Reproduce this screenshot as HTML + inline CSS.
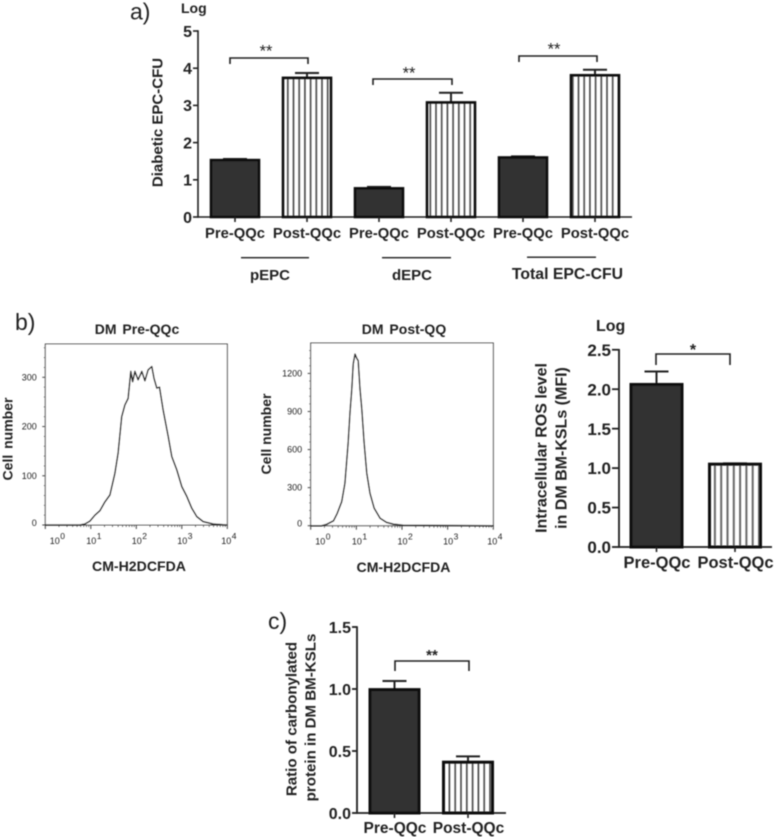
<!DOCTYPE html>
<html lang="en">
<head>
<meta charset="utf-8">
<title>Diabetic EPC-CFU, ROS and carbonylated protein charts</title>
<style>
html,body{margin:0;padding:0;background:#fff;}
svg{display:block;}
text{font-family:"Liberation Sans",sans-serif;fill:#222;}
.b{font-weight:bold;}
</style>
</head>
<body>
<svg id="fig" xmlns="http://www.w3.org/2000/svg" width="777" height="837" viewBox="0 0 777 837">
  <defs>
    <pattern id="stripe-a" patternUnits="userSpaceOnUse" width="5.7" height="10"><rect x="2" width="1.6" height="10" fill="#444"/></pattern>
    <pattern id="stripe-b" patternUnits="userSpaceOnUse" width="6.3" height="10"><rect x="2" width="2" height="10" fill="#666"/></pattern>
    <pattern id="stripe-c" patternUnits="userSpaceOnUse" width="5.8" height="10"><rect x="2" width="1.6" height="10" fill="#444"/></pattern>
    <filter id="soft" x="-5%" y="-5%" width="110%" height="110%"><feGaussianBlur stdDeviation="0.4"/></filter>
  </defs>
  <g id="root" filter="url(#soft)">
    <text x="130" y="19.5" font-size="23">a)</text>
    <text x="15" y="330" font-size="23">b)</text>
    <text x="268" y="629" font-size="23">c)</text>

    <text class="b" x="181" y="13" font-size="14">Log</text>
    <text class="b" transform="translate(162.5,122.5) rotate(-90)" text-anchor="middle" font-size="15">Diabetic EPC-CFU</text>
    <rect x="241" y="257" width="68" height="1.4" fill="#222"/>
    <rect x="382" y="257" width="69" height="1.4" fill="#222"/>
    <rect x="527" y="256.5" width="69" height="1.4" fill="#222"/>
    <text class="b" x="270" y="280" text-anchor="middle" font-size="15">pEPC</text>
    <text class="b" x="412" y="280" text-anchor="middle" font-size="15">dEPC</text>
    <text class="b" x="567.5" y="279" text-anchor="middle" font-size="15.8">Total EPC-CFU</text>

    <text class="b" x="137" y="334" text-anchor="middle" font-size="14" word-spacing="2">DM Pre-QQc</text>
    <text class="b" x="139" y="571" text-anchor="middle" font-size="14.1">CM-H2DCFDA</text>
    <text class="b" transform="translate(12.5,439) rotate(-90)" text-anchor="middle" font-size="14" word-spacing="2">Cell number</text>

    <text class="b" x="404" y="334" text-anchor="middle" font-size="14" word-spacing="2">DM Post-QQ</text>
    <text class="b" x="403.5" y="572" text-anchor="middle" font-size="14.1">CM-H2DCFDA</text>
    <text class="b" transform="translate(271,434) rotate(-90)" text-anchor="middle" font-size="14">Cell number</text>

    <text class="b" x="596" y="331" font-size="16">Log</text>
    <text class="b" transform="translate(546.5,448) rotate(-90)" text-anchor="middle" font-size="16">Intracellular ROS level</text>
    <text class="b" transform="translate(566.5,448) rotate(-90)" text-anchor="middle" font-size="16">in DM BM-KSLs (MFI)</text>

    <text class="b" transform="translate(296.5,719) rotate(-90)" text-anchor="middle" font-size="15.1">Ratio of carbonylated</text>
    <text class="b" transform="translate(315.5,717.5) rotate(-90)" text-anchor="middle" font-size="15.1">protein in DM BM-KSLs</text>
  </g>
</svg>
<script>
// Chart a: Diabetic EPC-CFU
const epcCategories = ['Pre-QQc', 'Post-QQc', 'Pre-QQc', 'Post-QQc', 'Pre-QQc', 'Post-QQc'];
const epcValues = [1.53, 3.74, 0.77, 3.08, 1.60, 3.81];
const epcErrorTops = [1.56, 3.87, 0.81, 3.34, 1.63, 3.96];
const epcTicks = ['0', '1', '2', '3', '4', '5'];

// Chart b: Intracellular ROS
const rosCategories = ['Pre-QQc', 'Post-QQc'];
const rosValues = [2.06, 1.05];
const rosErrorTops = [2.225, 1.06];
const rosTicks = ['0.0', '0.5', '1.0', '1.5', '2.0', '2.5'];

// Chart c: Carbonylated protein
const carbCategories = ['Pre-QQc', 'Post-QQc'];
const carbValues = [0.995, 0.41];
const carbErrorTops = [1.065, 0.457];
const carbTicks = ['0.0', '0.5', '1.0', '1.5'];

// Flow-cytometry histograms (log10 fluorescence, cell count)
const preLogFluorescence = [0, 0.76, 0.87, 0.98, 1.09, 1.20, 1.31, 1.42, 1.53, 1.60, 1.68, 1.75, 1.82, 1.88, 1.92, 1.97, 2.04, 2.12, 2.19, 2.26, 2.34, 2.39, 2.45, 2.51, 2.59, 2.70, 2.78, 2.89, 3.00, 3.11, 3.22, 3.33, 3.47, 3.69, 3.99];
const preCellCounts = [0, 0, 2, 8, 20, 29, 47, 61, 105, 146, 220, 244, 257, 312, 291, 312, 295, 312, 293, 315, 322, 298, 278, 280, 234, 180, 139, 112, 78, 58, 34, 17, 7, 2, 0];
const preCountTicks = [0, 100, 200, 300];
const postLogFluorescence = [0, 0.24, 0.35, 0.50, 0.58, 0.68, 0.75, 0.82, 0.86, 0.90, 0.93, 0.97, 1.01, 1.04, 1.08, 1.12, 1.17, 1.23, 1.30, 1.39, 1.52, 1.66, 1.81, 2.03, 4.00];
const postCellCounts = [0, 0, 11, 39, 97, 189, 333, 648, 893, 1077, 1274, 1352, 1318, 1300, 1077, 919, 656, 412, 255, 137, 58, 26, 13, 3, 0];
const postCountTicks = [0, 300, 600, 900, 1200];
const decades = [0, 1, 2, 3, 4];

const NS = 'http://www.w3.org/2000/svg';
const root = document.getElementById('root');
function make(parent, tag, attrs, txt) {
  const el = document.createElementNS(NS, tag);
  for (const k in attrs) el.setAttribute(k, attrs[k]);
  if (txt !== undefined) el.textContent = txt;
  parent.appendChild(el);
  return el;
}

function drawBars(c) {
  const g = make(root, 'g', {});
  
  
  const y = v => c.y0 - v * c.unit;
  const x = i => c.x0 + i * c.step;
  const tickVal = i => i * c.tickStep;

  const yAxis = make(g, 'line', {x1: c.axisX, x2: c.axisX, y1: y(c.maxV) - 0.8, y2: c.y0 + 0.8, stroke: '#222', 'stroke-width': c.axisW});
  
  
  const xAxis = make(g, 'line', {x1: c.axisX, x2: c.axisEnd, y1: c.y0, y2: c.y0, stroke: '#222', 'stroke-width': c.axisW});
  
  

  c.ticks.forEach((t, i) => {
    const ty = y(tickVal(i));
    const tick = make(g, 'line', {x1: c.axisX - c.tickLen, x2: c.axisX, y1: ty, y2: ty, stroke: '#222', 'stroke-width': c.axisW});
    
    
    const lab = make(g, 'text', {x: c.axisX - c.tickLen - 1, y: ty + c.tickFont * 0.36, 'text-anchor': 'end', 'font-size': c.tickFont, 'font-weight': 'bold'}, t);
    
    
  });

  c.values.forEach((v, i) => {
    const cx = x(i);
    const dark = i % 2 === 0;
    const top = y(c.errs[i]);
    const stem = make(g, 'line', {x1: cx, x2: cx, y1: top, y2: y(v), stroke: '#222', 'stroke-width': 2});
    
    
    const cap = make(g, 'line', {x1: cx - c.cap, x2: cx + c.cap, y1: top, y2: top, stroke: '#222', 'stroke-width': 2});
    
    
    const bar = make(g, 'rect', {x: cx - c.barW / 2, y: y(v), width: c.barW, height: c.y0 - y(v), fill: dark ? '#333' : 'url(#' + c.stripe + ')', stroke: '#111', 'stroke-width': c.barStroke});
    
    
    const tick = make(g, 'line', {x1: cx, x2: cx, y1: c.y0, y2: c.y0 + 5, stroke: '#222', 'stroke-width': 1.6});
    
    
    const lab = make(g, 'text', {x: cx + c.labelDx, y: c.labelY, 'text-anchor': 'middle', 'font-size': c.labelFont, 'font-weight': 'bold'}, c.categories[i]);
    
    
  });

  c.brackets.forEach(b => {
    const br = make(g, 'path', {d: 'M' + b.a + ' ' + (b.y + b.drop) + 'V' + b.y + 'H' + b.b + 'V' + (b.y + b.drop), fill: 'none', stroke: '#222', 'stroke-width': 1.6});
    
    
    const st = make(g, 'text', {x: b.sx, y: b.sy, 'text-anchor': 'middle', 'font-size': b.font, 'font-weight': b.weight}, b.stars);
    
    
  });
}

drawBars({id: 'epc', categories: epcCategories, values: epcValues, errs: epcErrorTops, ticks: epcTicks, tickStep: 1, maxV: 5,
  x0: 235, step: 72, barW: 48, y0: 217, unit: 37.2, axisX: 198, axisEnd: 632, axisW: 1.6, tickLen: 5, tickFont: 16, cap: 12, barStroke: 2.6,
  stripe: 'stripe-a', labelY: 238, labelFont: 14.8, labelDx: 0,
  brackets: [
    {a: 230, b: 308, y: 58, drop: 6, sx: 266, sy: 56.5, stars: '**', font: 16.5, weight: 'normal'},
    {a: 373, b: 452, y: 79, drop: 6, sx: 409, sy: 78.5, stars: '**', font: 16.5, weight: 'normal'},
    {a: 519, b: 597, y: 56, drop: 6, sx: 554, sy: 54.5, stars: '**', font: 16.5, weight: 'normal'}
  ]});

drawBars({id: 'ros', categories: rosCategories, values: rosValues, errs: rosErrorTops, ticks: rosTicks, tickStep: 0.5, maxV: 2.5,
  x0: 656.5, step: 78.5, barW: 51, y0: 547, unit: 78.9, axisX: 619, axisEnd: 772, axisW: 1.8, tickLen: 7, tickFont: 17, cap: 12, barStroke: 3,
  stripe: 'stripe-b', labelY: 568, labelFont: 16.5, labelDx: 0.5,
  brackets: [{a: 656, b: 730, y: 354, drop: 11, sx: 693, sy: 355, stars: '*', font: 16, weight: 'bold'}]});

drawBars({id: 'carb', categories: carbCategories, values: carbValues, errs: carbErrorTops, ticks: carbTicks, tickStep: 0.5, maxV: 1.5,
  x0: 394.5, step: 73.5, barW: 49, y0: 813, unit: 124, axisX: 357, axisEnd: 506, axisW: 1.8, tickLen: 5, tickFont: 16, cap: 12, barStroke: 3,
  stripe: 'stripe-c', labelY: 833, labelFont: 15.5, labelDx: 0.5,
  brackets: [{a: 395, b: 469, y: 661, drop: 10, sx: 432, sy: 660, stars: '**', font: 15, weight: 'bold'}]});

function drawHistogram(c) {
  const g = make(root, 'g', {});
  
  
  const x = v => c.left + v * (c.right - c.left) / 4;
  const y = v => c.bottom - v * c.unit;

  const frame = make(g, 'rect', {x: c.left, y: c.top, width: c.right - c.left, height: c.bottom - c.top, fill: '#fff', stroke: '#444', 'stroke-width': 1});
  
  

  c.countTicks.forEach(t => {
    const tick = make(g, 'line', {x1: c.left - 3, x2: c.left, y1: y(t), y2: y(t), stroke: '#444', 'stroke-width': 1});
    
    
    const lab = make(g, 'text', {x: c.left - 8.5, y: y(t) + (t === 0 ? 1 : 3), 'text-anchor': 'end', 'font-size': 9, fill: '#333'}, String(t));
    
    
  });
  for (let v = c.minorStep; y(v) > c.top; v += c.minorStep) {
    const minor = make(g, 'line', {x1: c.left - 1.5, x2: c.left, y1: y(v), y2: y(v), stroke: '#666', 'stroke-width': 0.8});
    
    
  }

  decades.forEach(d => {
    const tick = make(g, 'line', {x1: x(d), x2: x(d), y1: c.bottom, y2: c.bottom + 4, stroke: '#444', 'stroke-width': 1});
    
    
    if (d < 4) {
      for (let m = 2; m <= 9; m++) {
        const mx = x(d + Math.log10(m));
        const minor = make(g, 'line', {x1: mx, x2: mx, y1: c.bottom, y2: c.bottom + 2, stroke: '#555', 'stroke-width': 0.8});
        
        
      }
    }
    const lx = x(d) + (d === 0 ? 4.5 : (d === 4 ? -6 : -4.5));
    const base = make(g, 'text', {x: lx, y: c.bottom + 19, 'font-size': 9, fill: '#333'}, '10');
    
    
    const sup = make(g, 'text', {x: lx + 10.5, y: c.bottom + 14, 'font-size': 8.5, fill: '#333'}, String(d));
    
    
  });

  const pts = c.logs.map((v, i) => x(v).toFixed(1) + ',' + y(c.counts[i]).toFixed(1)).join(' ');
  const curve = make(g, 'polyline', {points: pts, fill: 'none', stroke: '#222', 'stroke-width': 1.5, 'stroke-linejoin': 'round'});
  
  
}

drawHistogram({id: 'pre', logs: preLogFluorescence, counts: preCellCounts, countTicks: preCountTicks, minorStep: 20,
  left: 45.3, right: 227.3, top: 344, bottom: 525, unit: 0.4923});
drawHistogram({id: 'post', logs: postLogFluorescence, counts: postCellCounts, countTicks: postCountTicks, minorStep: 60,
  left: 310.7, right: 493.3, top: 343, bottom: 525.7, unit: 0.1269});
</script>
</body>
</html>
